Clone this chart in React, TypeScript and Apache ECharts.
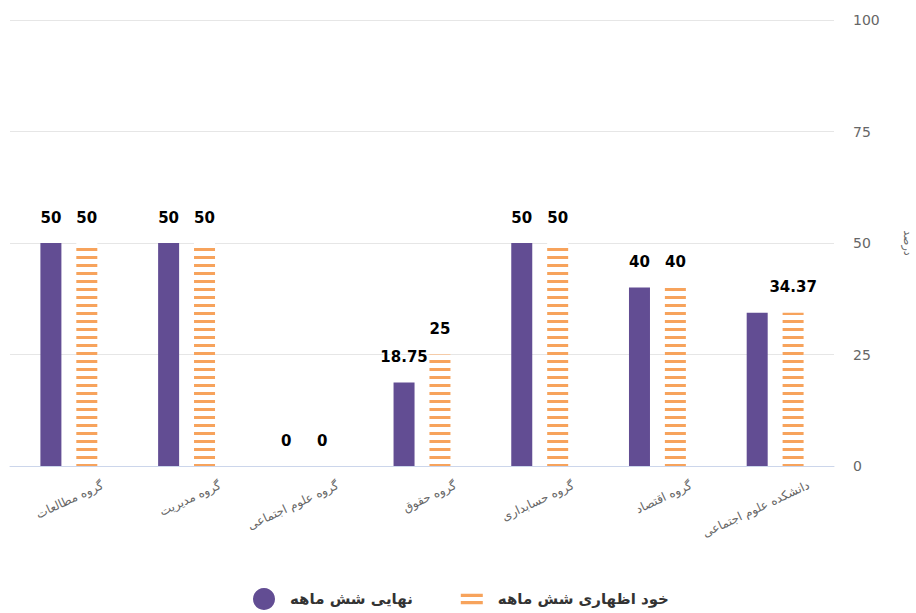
import React, { useEffect, useRef } from "react";
import * as echarts from "echarts";

const categories = [
  "گروه مطالعات",
  "گروه مدیریت",
  "گروه علوم اجتماعی",
  "گروه حقوق",
  "گروه حسابداری",
  "گروه اقتصاد",
  "دانشکده علوم اجتماعی",
];
const seriesNames = ["نهایی شش ماهه", "خود اظهاری شش ماهه"];
const finalValues = [50, 50, 0, 18.75, 50, 40, 34.37];
const selfValues = [50, 50, 0, 25, 50, 40, 34.37];
// labels hidden in the reference because they overlap the neighbour's label
const hiddenFinalLabels = [6];
const yMin = 0;
const yMax = 100;
const yInterval = 25;
const axisName = "درصد";

const PURPLE = "#624d93";
const ORANGE = "#f7a35c";
const FONT = "DejaVu Sans, Tahoma, sans-serif";

export default function App() {
  const ref = useRef<HTMLDivElement>(null);

  useEffect(() => {
    if (!ref.current) return;
    const chart = echarts.init(ref.current, undefined, { renderer: "svg" });
    const valueLabel = {
      show: true,
      position: "top",
      distance: 18,
      color: "#000",
      fontFamily: FONT,
      fontSize: 15,
      fontWeight: "bold",
      textBorderColor: "#fff",
      textBorderWidth: 2,
    };
    chart.setOption({
      animation: false,
      textStyle: { fontFamily: FONT },
      grid: {
        left: 10,
        right: 82,
        top: 20,
        bottom: 147,
        containLabel: false,
        outerBoundsMode: "none",
      },
      legend: {
        left: 248,
        top: 583,
        itemWidth: 22,
        itemHeight: 22,
        itemGap: 48,
        textStyle: {
          fontFamily: FONT,
          fontSize: 15,
          fontWeight: "bold",
          color: "#333",
          padding: [0, 0, 0, 10],
        },
        data: [
          { name: seriesNames[0], icon: "circle", itemStyle: { color: PURPLE } },
          {
            name: seriesNames[1],
            icon: "path://M0,0h23v3.5h-23z M0,7.5h23v3.5h-23z",
            itemStyle: { color: ORANGE, decal: "none" },
          },
        ],
      },
      xAxis: {
        type: "category",
        data: categories,
        axisLine: { show: true, lineStyle: { color: "#ccd6eb", width: 1 } },
        axisTick: { show: false },
        axisLabel: {
          rotate: 25,
          margin: 34,
          fontSize: 12,
          color: "#666",
          fontFamily: FONT,
          padding: [0, -37, 0, 0],
          interval: 0,
        },
      },
      yAxis: {
        type: "value",
        position: "right",
        min: yMin,
        max: yMax,
        interval: yInterval,
        name: axisName,
        nameLocation: "middle",
        nameGap: 68,
        nameRotate: -90,
        nameTextStyle: { fontSize: 11, color: "#666", fontFamily: FONT },
        axisLine: { show: false },
        axisTick: { show: false },
        axisLabel: { fontSize: 14, color: "#666", margin: 19, fontFamily: FONT },
        splitLine: { lineStyle: { color: "#e6e6e6", width: 1 } },
      },
      series: [
        {
          name: seriesNames[0],
          type: "bar",
          barWidth: 21,
          barGap: "71%",
          itemStyle: { color: PURPLE },
          label: valueLabel,
          data: finalValues.map((v, i) =>
            hiddenFinalLabels.includes(i) ? { value: v, label: { show: false } } : v
          ),
        },
        {
          name: seriesNames[1],
          type: "bar",
          barWidth: 21,
          itemStyle: {
            color: "#ffffff",
            decal: {
              symbol: "rect",
              symbolSize: 1,
              dashArrayX: [1, 0],
              dashArrayY: [3, 4.5],
              rotation: 0,
              color: ORANGE,
            },
          },
          label: valueLabel,
          data: selfValues,
        },
      ],
    });
    return () => chart.dispose();
  }, []);

  return (
    <div
      ref={ref}
      style={{ position: "fixed", left: 0, top: 0, width: 916, height: 613, background: "#fff" }}
    />
  );
}
